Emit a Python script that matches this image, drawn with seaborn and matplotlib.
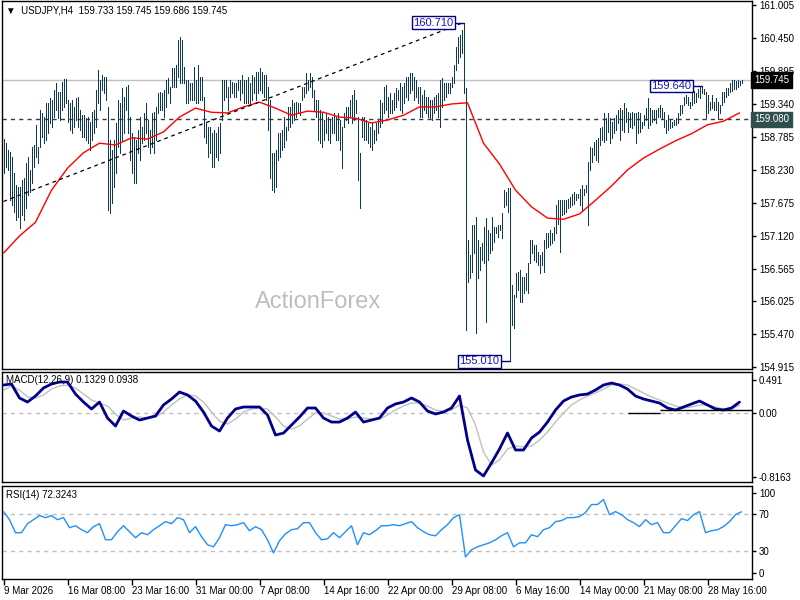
import numpy as np
import matplotlib
matplotlib.use("Agg")
import matplotlib.pyplot as plt
import seaborn as sns

# USDJPY H4 bars, oldest first (one bar = 4 hours)
highs = [
    158.75, 158.68, 158.57, 158.53, 158.45, 158.18, 157.98, 157.94, 157.94, 158.06,
    158.09, 158.35, 158.45, 158.23, 158.62, 158.65, 158.99, 158.62, 159.24, 159.19,
    159.12, 159.36, 159.36, 159.44, 159.41, 159.58, 159.69, 159.54, 159.54, 159.71,
    159.76, 159.76, 159.41, 159.36, 159.41, 159.29, 159.44, 159.46, 159.24, 159.15,
    159.15, 159.10, 159.12, 159.04, 159.20, 159.24, 159.58, 159.91, 159.74, 159.83,
    159.80, 159.80, 159.29, 158.73, 158.57, 158.73, 159.02, 159.41, 159.36, 159.61,
    159.46, 159.63, 159.66, 159.12, 158.85, 158.78, 158.73, 158.90, 159.12, 158.95,
    159.19, 159.36, 159.07, 158.90, 159.19, 159.20, 159.29, 159.52, 159.54, 159.52,
    159.58, 159.74, 159.78, 159.63, 159.95, 159.95, 160.00, 160.42, 160.47, 160.42,
    159.96, 159.74, 159.74, 159.69, 159.69, 159.96, 159.74, 160.00, 159.80, 159.80,
    159.46, 159.02, 158.95, 158.95, 158.85, 158.90, 158.85, 158.95, 159.02, 159.74,
    159.74, 159.74, 159.63, 159.74, 159.71, 159.69, 159.69, 159.74, 159.74, 159.83,
    159.74, 159.74, 159.80, 159.69, 159.83, 159.80, 159.88, 159.88, 159.95, 159.88,
    159.83, 159.83, 159.63, 159.41, 158.52, 158.52, 158.57, 158.85, 158.85, 158.90,
    159.12, 158.95, 159.29, 159.29, 159.41, 159.36, 159.38, 159.36, 159.36, 159.63,
    159.63, 159.86, 159.74, 159.86, 159.80, 159.58, 159.41, 159.41, 159.24, 159.19,
    159.07, 159.19, 159.12, 159.07, 159.12, 159.19, 159.12, 159.19, 159.07, 158.95,
    159.19, 159.29, 159.29, 159.41, 159.49, 159.58, 159.41, 159.12, 158.52, 159.12,
    159.12, 159.07, 159.02, 158.95, 159.02, 158.90, 159.02, 159.07, 159.41, 159.36,
    159.63, 159.66, 159.46, 159.52, 159.41, 159.52, 159.61, 159.58, 159.69, 159.63,
    159.69, 159.80, 159.80, 159.86, 159.86, 159.80, 159.74, 159.63, 159.63, 159.49,
    159.58, 159.46, 159.46, 159.41, 159.41, 159.46, 159.49, 159.52, 159.74, 159.78,
    159.69, 159.69, 159.69, 159.69, 159.80, 160.00, 160.30, 160.47, 160.50, 160.58,
    160.71, 159.61, 157.05, 156.80, 157.30, 157.30, 157.44, 157.05, 156.93, 157.00,
    157.27, 157.42, 157.22, 157.17, 157.44, 157.27, 157.27, 157.30, 157.30, 157.50,
    157.89, 157.86, 157.93, 157.93, 156.29, 156.13, 156.50, 156.51, 156.55, 156.43,
    156.43, 156.50, 156.67, 157.05, 157.05, 156.97, 156.97, 156.85, 156.80, 156.85,
    157.05, 157.17, 157.17, 157.22, 157.17, 157.27, 157.64, 157.72, 157.72, 157.72,
    157.72, 157.72, 157.74, 157.77, 157.83, 157.86, 157.83, 157.83, 157.91, 157.98,
    157.91, 157.98, 158.36, 158.62, 158.60, 158.70, 158.73, 158.77, 158.94, 158.95,
    159.19, 159.10, 159.19, 159.10, 159.04, 159.10, 159.15, 159.24, 159.27, 159.24,
    159.36, 159.27, 159.20, 159.19, 159.20, 159.19, 159.19, 159.20, 159.19, 159.04,
    159.15, 159.27, 159.44, 159.27, 159.24, 159.24, 159.24, 159.27, 159.32, 159.27,
    159.20, 159.07, 159.15, 159.07, 159.04, 159.07, 159.10, 159.19, 159.32, 159.32,
    159.46, 159.49, 159.46, 159.37, 159.54, 159.55, 159.52, 159.60, 159.62, 159.64,
    159.60, 159.54, 159.49, 159.37, 159.49, 159.37, 159.44, 159.37, 159.32, 159.54,
    159.54, 159.61, 159.61, 159.69, 159.74, 159.75, 159.72, 159.74, 159.73, 159.745,
]
lows = [
    158.18, 158.28, 158.23, 157.72, 157.64, 157.52, 157.39, 157.44, 157.25, 157.47,
    157.39, 157.59, 157.81, 157.86, 158.01, 158.28, 158.45, 158.35, 158.62, 158.78,
    158.68, 158.73, 158.85, 159.02, 158.95, 159.12, 159.24, 159.10, 159.07, 159.24,
    159.29, 159.36, 159.04, 158.90, 158.85, 158.95, 159.07, 158.95, 158.90, 158.78,
    158.78, 158.73, 158.68, 158.57, 158.73, 158.85, 158.95, 159.36, 159.24, 159.58,
    159.52, 159.41, 157.56, 157.50, 157.68, 157.94, 158.18, 158.62, 158.52, 158.73,
    158.85, 159.24, 158.85, 158.40, 158.18, 158.01, 158.01, 158.52, 158.40, 158.68,
    158.73, 158.85, 158.62, 158.52, 158.62, 158.52, 158.73, 159.19, 159.24, 159.24,
    159.12, 159.29, 159.52, 159.36, 159.63, 159.63, 159.63, 159.80, 159.69, 159.69,
    159.69, 159.36, 159.36, 159.41, 159.41, 159.41, 159.36, 159.36, 159.41, 159.41,
    158.78, 158.68, 158.45, 158.52, 158.28, 158.28, 158.45, 158.40, 158.52, 159.07,
    159.41, 159.46, 159.24, 159.46, 159.52, 159.46, 159.46, 159.58, 159.41, 159.52,
    159.36, 159.36, 159.36, 159.32, 159.41, 159.52, 159.41, 159.52, 159.58, 159.52,
    159.46, 159.41, 158.90, 158.10, 157.89, 157.86, 157.94, 158.40, 158.45, 158.57,
    158.62, 158.73, 158.90, 158.95, 159.02, 159.07, 159.12, 159.19, 159.15, 159.41,
    159.46, 159.52, 159.58, 159.63, 159.46, 159.24, 159.12, 158.73, 158.68, 158.62,
    158.73, 158.85, 158.73, 158.68, 158.85, 158.85, 158.73, 158.73, 158.57, 158.27,
    158.95, 159.07, 159.02, 159.12, 159.02, 159.07, 159.19, 158.06, 157.59, 158.78,
    158.73, 158.73, 158.68, 158.62, 158.57, 158.68, 158.73, 158.85, 158.95, 159.02,
    159.19, 159.24, 159.12, 159.19, 159.19, 159.24, 159.29, 159.41, 159.24, 159.19,
    159.36, 159.46, 159.41, 159.52, 159.58, 159.41, 159.46, 159.36, 159.12, 159.12,
    159.24, 159.19, 159.12, 159.10, 159.07, 159.19, 159.24, 159.12, 158.95, 159.29,
    159.41, 159.46, 159.52, 159.52, 159.63, 159.70, 159.91, 160.03, 160.13, 160.20,
    159.52, 155.54, 156.34, 156.41, 156.51, 156.83, 155.49, 156.41, 156.55, 156.72,
    156.67, 155.67, 156.72, 156.83, 156.88, 157.02, 157.17, 157.10, 157.22, 157.09,
    157.61, 157.64, 157.52, 155.01, 155.62, 155.57, 156.09, 156.21, 156.01, 156.01,
    156.16, 156.21, 156.16, 156.67, 156.83, 156.72, 156.68, 156.63, 156.50, 156.63,
    156.51, 156.92, 156.93, 156.97, 157.00, 157.05, 157.17, 157.32, 156.85, 157.47,
    157.49, 157.52, 157.59, 157.61, 157.64, 157.66, 157.72, 157.76, 157.64, 157.56,
    157.81, 157.86, 157.30, 158.23, 158.36, 158.48, 158.40, 158.36, 158.65, 158.73,
    158.70, 158.73, 158.87, 158.68, 158.77, 158.85, 158.90, 159.02, 158.73, 158.90,
    158.87, 159.04, 158.87, 158.95, 158.94, 158.99, 158.68, 158.85, 158.87, 158.94,
    158.99, 159.07, 158.94, 158.99, 159.04, 159.07, 159.02, 159.12, 159.12, 159.10,
    158.95, 158.85, 158.90, 158.94, 158.95, 158.99, 158.99, 159.02, 159.15, 159.19,
    159.32, 159.36, 159.32, 159.27, 159.32, 159.35, 159.37, 159.45, 159.44, 159.52,
    159.50, 159.10, 159.19, 159.24, 159.27, 159.24, 159.24, 159.09, 159.19, 159.32,
    159.37, 159.46, 159.49, 159.54, 159.55, 159.60, 159.60, 159.63, 159.66, 159.686,
]
last_bar = (159.733, 159.745, 159.686, 159.745)  # open, high, low, close

# red moving average, read every 8 bars
ma_step = 8
ma_values = [
    156.83, 157.12, 157.35, 157.89, 158.26, 158.52, 158.68, 158.65, 158.77, 158.75,
    158.87, 159.12, 159.27, 159.20, 159.19, 159.29, 159.37, 159.27, 159.15, 159.22,
    159.20, 159.12, 159.10, 159.02, 159.07, 159.15, 159.29, 159.29, 159.34, 159.36,
    158.68, 158.33, 157.89, 157.61, 157.42, 157.40, 157.49, 157.72, 157.96, 158.23,
    158.43, 158.58, 158.72, 158.84, 158.99, 159.05, 159.19,
]

# MACD(12,26,9) main and signal, read every 4 bars
macd_step = 4
macd_values = [
    0.336, 0.348, 0.182, 0.134, 0.206, 0.301, 0.348, 0.372, 0.372, 0.229,
    0.134, 0.051, 0.134, -0.056, -0.151, 0.027, -0.032, -0.080, -0.056, -0.032,
    0.099, 0.170, 0.253, 0.218, 0.146, 0.015, -0.151, -0.211, -0.056, 0.051,
    0.075, 0.075, 0.075, -0.020, -0.258, -0.235, -0.139, -0.044, 0.063, 0.063,
    -0.056, -0.104, -0.104, -0.056, 0.015, -0.104, -0.080, -0.056, 0.063, 0.111,
    0.134, 0.182, 0.134, 0.027, -0.008, 0.015, 0.063, 0.206, -0.317, -0.674,
    -0.745, -0.590, -0.424, -0.234, -0.436, -0.436, -0.294, -0.223, -0.104, 0.039,
    0.146, 0.194, 0.218, 0.229, 0.277, 0.336, 0.360, 0.336, 0.289, 0.206,
    0.170, 0.146, 0.122, 0.063, 0.039, 0.075, 0.111, 0.146, 0.099, 0.051,
    0.039, 0.063, 0.133,
]
signal_values = [
    0.277, 0.324, 0.277, 0.194, 0.182, 0.218, 0.289, 0.324, 0.336, 0.301,
    0.229, 0.158, 0.122, 0.087, -0.008, -0.080, -0.056, -0.044, -0.056, -0.044,
    0.015, 0.099, 0.170, 0.218, 0.206, 0.134, 0.015, -0.092, -0.127, -0.068,
    0.015, 0.051, 0.063, 0.051, -0.044, -0.151, -0.187, -0.151, -0.068, 0.004,
    0.004, -0.032, -0.068, -0.068, -0.044, -0.056, -0.068, -0.068, -0.020, 0.039,
    0.087, 0.122, 0.122, 0.087, 0.039, 0.027, 0.039, 0.099, 0.063, -0.139,
    -0.460, -0.614, -0.555, -0.424, -0.389, -0.400, -0.389, -0.317, -0.223, -0.104,
    0.004, 0.099, 0.158, 0.206, 0.241, 0.289, 0.336, 0.348, 0.336, 0.289,
    0.241, 0.194, 0.158, 0.122, 0.087, 0.063, 0.075, 0.099, 0.099, 0.075,
    0.051, 0.051, 0.094,
]
macd_last = (0.1329, 0.0938)
macd_range = (-0.8163, 0.491)
# flat line drawn on the MACD window: start bar, end bar, level
macd_hline_bars = [(312, 328, 0.007), (328, 375, 0.039)]

# RSI(14), read every 3 bars
rsi_step = 3
rsi_values = [
    72.5, 63.8, 49.8, 49.8, 59.5, 63.8, 68.2, 66.0, 68.2, 63.8,
    66.0, 55.2, 57.3, 53.0, 49.8, 56.3, 59.5, 42.2, 42.2, 50.9,
    57.3, 50.9, 44.4, 49.8, 47.6, 53.0, 57.3, 61.7, 59.5, 66.0,
    63.8, 49.8, 56.3, 45.5, 36.8, 34.6, 44.4, 58.4, 57.3, 58.4,
    60.6, 51.9, 56.3, 53.0, 42.2, 28.1, 41.1, 48.7, 53.0, 54.1,
    60.6, 60.6, 49.8, 42.2, 43.3, 49.8, 44.4, 50.9, 57.3, 36.8,
    49.8, 47.6, 51.9, 57.3, 57.3, 58.4, 57.3, 59.5, 61.7, 55.2,
    50.9, 47.6, 46.5, 53.0, 58.4, 66.0, 69.2, 23.8, 31.4, 34.6,
    36.8, 38.9, 42.2, 46.5, 49.8, 34.6, 38.9, 38.9, 47.6, 45.5,
    53.0, 55.2, 61.7, 62.8, 66.0, 66.0, 67.1, 71.4, 80.1, 80.1,
    85.5, 69.2, 72.5, 69.2, 63.8, 60.6, 56.3, 63.8, 58.4, 60.6,
    49.8, 49.8, 57.3, 64.9, 62.8, 69.2, 72.5, 49.8, 51.9, 53.0,
    56.3, 61.7, 69.2, 72.3,
]
rsi_last = 72.3243

support_level = 159.080
trend_start = 157.70

price_ticks = [161.005, 160.450, 159.895, 159.340, 158.785, 158.230,
               157.675, 157.120, 156.565, 156.025, 155.470, 154.915]
date_ticks = [0, 32, 64, 96, 128, 160, 192, 224, 256, 288, 320, 352]
date_labels = ["9 Mar 2026", "16 Mar 08:00", "23 Mar 16:00", "31 Mar 00:00",
               "7 Apr 08:00", "14 Apr 16:00", "22 Apr 00:00", "29 Apr 08:00",
               "6 May 16:00", "14 May 00:00", "21 May 08:00", "28 May 16:00"]


def style_axis(a, xlim):
    a.set_xlim(*xlim)
    a.set_facecolor("white")
    for s in a.spines.values():
        s.set_visible(True)
        s.set_color("black")
        s.set_linewidth(1)
    a.yaxis.tick_right()
    a.tick_params(axis="y", which="both", direction="out", length=3, width=1,
                  colors="black", labelsize=7, pad=2, left=False, right=True,
                  labelleft=False, labelright=True)
    a.tick_params(axis="x", bottom=False, labelbottom=False)
    a.set_xlabel("")
    a.set_ylabel("")


def side_box(a, value, fc):
    a.text(1.003, value, f"{value:.3f}", transform=a.get_yaxis_transform(),
           ha="left", va="center", fontsize=7, color="white", zorder=10,
           clip_on=False, bbox=dict(boxstyle="square,pad=0.3", fc=fc, ec=fc))


def price_label(a, i, price):
    a.plot([i - 5, i], [price, price], color="#000080", lw=1, zorder=6)
    a.text(i - 5, price, f"{price:.3f}", ha="right", va="center", fontsize=8,
           color="#1818B4", zorder=7,
           bbox=dict(boxstyle="square,pad=0.12", fc="white", ec="#000080", lw=1))


def main():
    sns.set_theme(style="white")
    plt.rcParams["font.family"] = ["Liberation Sans", "DejaVu Sans"]

    bar_color = "#0E3A58"
    n = len(highs)
    x = np.arange(n)
    # quarter-bar shift puts each 1px bar on a pixel centre
    xlim = (-0.75, 374.25)

    fig = plt.figure(figsize=(8, 6), dpi=100)
    fig.patch.set_facecolor("white")
    ax = fig.add_axes([0.0025, 0.385, 0.9375, 0.6133])
    ax_macd = fig.add_axes([0.0025, 0.1967, 0.9375, 0.1833])
    ax_rsi = fig.add_axes([0.0025, 0.035, 0.9375, 0.155])

    # ---- price window ----
    ax.axhline(last_bar[3], color="#C0C0C0", lw=1, zorder=1)
    ax.axhline(support_level, color="#3A3A3A", lw=1, ls=(0, (3, 3)), zorder=1)
    ax.text(0.421, 0.182, "ActionForex", transform=ax.transAxes, ha="center",
            va="center", fontsize=17, color="#BEBEBE", zorder=2)
    ax.vlines(x, lows, highs, color=bar_color, lw=0.7, antialiased=False,
              zorder=3)
    sns.lineplot(x=np.arange(len(ma_values)) * ma_step, y=ma_values, ax=ax,
                 color="red", lw=1, zorder=4)

    peak = int(np.argmax(highs))
    trough = int(np.argmin(lows))
    recent = 330 + int(np.argmax(highs[330:360]))
    ax.plot([0, peak], [trend_start, highs[peak]], color="black", lw=0.9,
            ls=(0, (3, 3)), zorder=5)
    price_label(ax, peak, highs[peak])
    price_label(ax, trough, lows[trough])
    price_label(ax, recent, highs[recent])

    style_axis(ax, xlim)
    ax.set_ylim(154.881, 161.072)
    ax.set_yticks(price_ticks)
    ax.set_yticklabels([f"{v:.3f}" for v in price_ticks])
    side_box(ax, last_bar[3], "black")
    side_box(ax, support_level, "#2F4F4F")
    ax.text(0.0053, 0.9755,
            "\u25bc  USDJPY,H4  " + " ".join(f"{v:.3f}" for v in last_bar),
            transform=ax.transAxes, ha="left", va="center", fontsize=7,
            color="black", zorder=8)

    # ---- MACD window ----
    mx = np.arange(len(macd_values)) * macd_step
    ax_macd.axhline(0, color="#C0C0C0", lw=1, ls=(0, (3, 3)), zorder=1)
    sns.lineplot(x=mx, y=signal_values, ax=ax_macd, color="#C0C0C0", lw=1, zorder=2)
    sns.lineplot(x=mx, y=macd_values, ax=ax_macd, color="#00008B", lw=2, zorder=3)
    for b0, b1, lvl in macd_hline_bars:
        ax_macd.hlines(lvl, b0, b1, color="black", lw=1, zorder=4)
    style_axis(ax_macd, xlim)
    ax_macd.set_ylim(*macd_range)
    ax_macd.set_yticks([0.396, 0.0, -0.757])
    ax_macd.set_yticklabels(["0.491", "0.00", "-0.8163"])
    ax_macd.text(0.0053, 0.927,
                 f"MACD(12,26,9) {macd_last[0]:.4f} {macd_last[1]:.4f}",
                 transform=ax_macd.transAxes, ha="left", va="center",
                 fontsize=7, color="black", zorder=8)

    # ---- RSI window ----
    rx = np.arange(len(rsi_values)) * rsi_step
    for lvl in (70, 30):
        ax_rsi.axhline(lvl, color="#C0C0C0", lw=1, ls=(0, (3, 3)), zorder=1)
    sns.lineplot(x=rx, y=rsi_values, ax=ax_rsi, color="#1E90FF", lw=1, zorder=3)
    style_axis(ax_rsi, xlim)
    ax_rsi.set_ylim(0, 100)
    ax_rsi.set_yticks([92.8, 70, 30, 6.8])
    ax_rsi.set_yticklabels(["100", "70", "30", "0"])
    ax_rsi.text(0.0053, 0.903, f"RSI(14) {rsi_last:.4f}",
                transform=ax_rsi.transAxes, ha="left", va="center",
                fontsize=7, color="black", zorder=8)
    ax_rsi.set_xticks(date_ticks)
    ax_rsi.set_xticklabels(date_labels)
    ax_rsi.tick_params(axis="x", bottom=True, labelbottom=True, direction="out",
                       length=4, width=1, colors="black", labelsize=7, pad=1)
    for t in ax_rsi.get_xticklabels():
        t.set_horizontalalignment("left")

    fig.savefig("out.png", dpi=100, facecolor="white")


if __name__ == "__main__":
    main()
